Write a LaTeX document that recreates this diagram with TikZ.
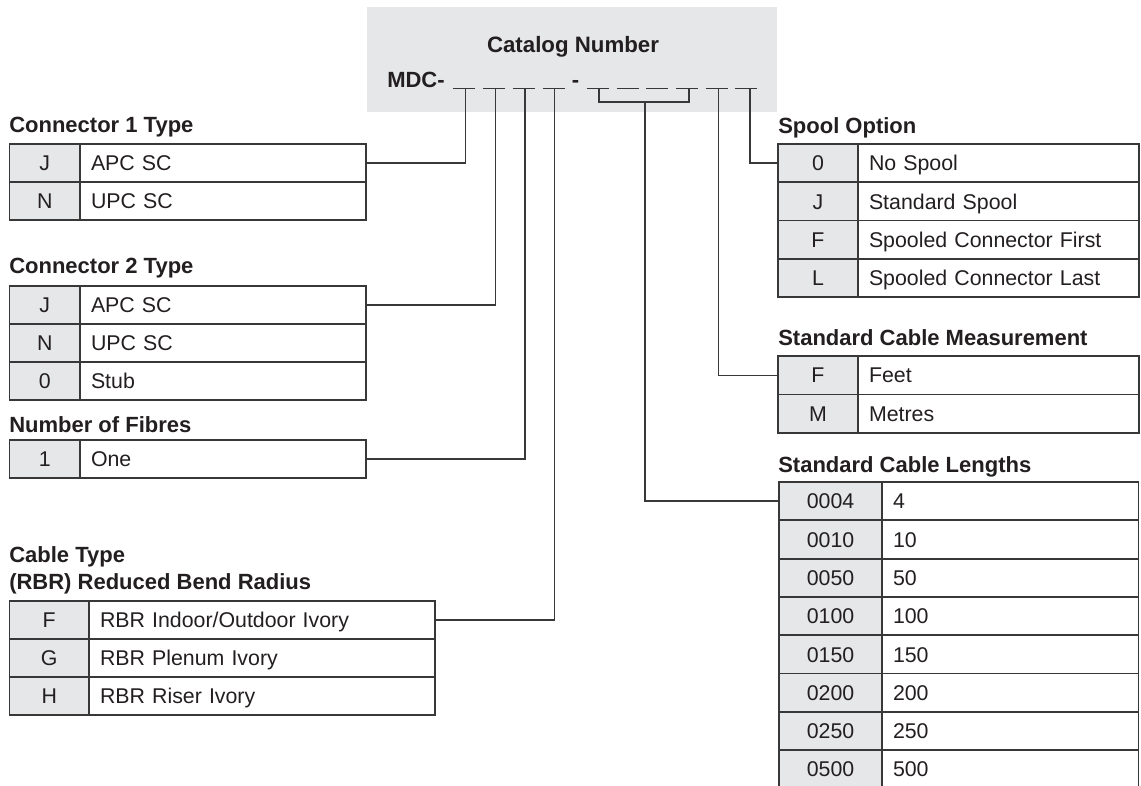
\documentclass[tikz,border=0pt]{standalone}
\usepackage{fontspec}
\setmainfont{Liberation Sans}
\definecolor{cellgray}{HTML}{E6E7E8}
\definecolor{ink}{HTML}{231F20}
\definecolor{rule}{HTML}{383838}
\tikzset{
  regfont/.style={font=\fontsize{16}{19}\selectfont},
  codecell/.style={draw=rule, fill=cellgray, line width=1.4pt, inner sep=0pt, text height=11.5pt, text depth=0pt, regfont, text=ink},
  desccell/.style={draw=rule, fill=white, line width=1.4pt, inner xsep=8.25pt, inner ysep=0pt, text height=11.5pt, text depth=0pt, align=left, regfont, text=ink},
  ttl/.style={anchor=base west, inner sep=0pt, font=\bfseries\fontsize{16.5}{19.5}\selectfont, text=ink},
  link/.style={draw=rule, line width=1pt},
  slotline/.style={draw=rule, line width=1pt},
}
\newcommand\trow[8]{%
  \pgfmathsetmacro\tw{(#4-#3)*0.75-16.5}%
  \node[codecell, minimum width={(#3-#2)*0.75pt}, minimum height={(#6-#5)*0.75pt}] (#1c) at ({(#2+#3)/2},{(#5+#6)/2}) {#7};
  \node[desccell, text width=\tw pt, minimum height={(#6-#5)*0.75pt}] (#1d) at ({(#3+#4)/2},{(#5+#6)/2}) {#8};
}
\begin{document}
\begin{tikzpicture}[x=0.75pt,y=-0.75pt]
\useasboundingbox (0,0) rectangle (1141,785);
\fill[white] (0,0) rectangle (1141,785);
% catalog box
\node[fill=cellgray, inner sep=0pt, minimum width={410*0.75pt}, minimum height={105*0.75pt}] (catbox) at (572,59.5) {};
\node[anchor=base, inner sep=0pt, font=\bfseries\fontsize{16.7}{20}\selectfont, text=ink] (cattitle) at (573,52) {Catalog Number};
\node[ttl] (mdc) at (387,87.5) {MDC-};
\node[anchor=base, inner sep=0pt, font=\bfseries\fontsize{16.5}{19.5}\selectfont, text=ink] (sep) at (575.5,87.5) {-};
% slots
\coordinate (u1) at (464,88.5);
\coordinate (u2) at (494,88.5);
\coordinate (u3) at (523.5,88.5);
\coordinate (u4) at (554,88.5);
\coordinate (u5) at (597.5,88.5);
\coordinate (u6) at (627.5,88.5);
\coordinate (u7) at (657,88.5);
\coordinate (u8) at (687,88.5);
\coordinate (u9) at (716.5,88.5);
\coordinate (u10) at (746,88.5);
\foreach \u in {u1,u2,u3,u4,u5,u6,u7,u8,u9,u10}{
  \draw[slotline] (\u) ++(-11,0) -- ++(22,0);
}
\coordinate (d1) at (465.5,88.5);
\coordinate (d2) at (495.5,88.5);
\coordinate (d3) at (525,88.5);
\coordinate (d4) at (554.5,88.5);
\coordinate (d5) at (599,88.5);
\coordinate (d8) at (689,88.5);
\coordinate (dm) at (645,102);
\coordinate (d9) at (718.5,88.5);
\coordinate (d10) at (750,88.5);
% Connector 1 Type
\node[ttl] (t1) at (9,132) {Connector 1 Type};
\trow{ca}{9.5}{80}{366}{144}{182}{J}{APC SC}
\trow{cb}{9.5}{80}{366}{182}{220}{N}{UPC SC}
% Connector 2 Type
\node[ttl] (t2) at (9,273) {Connector 2 Type};
\trow{da}{9.5}{80}{366}{286}{324}{J}{APC SC}
\trow{db}{9.5}{80}{366}{324}{362}{N}{UPC SC}
\trow{dc}{9.5}{80}{366}{362}{400}{0}{Stub}
% Number of Fibres
\node[ttl] (t3) at (9,432) {Number of Fibres};
\trow{fa}{9.5}{80}{366}{440}{478}{1}{One}
% Cable Type
\node[ttl] (t4) at (9,562) {Cable Type};
\node[ttl] (t4b) at (9,589) {(RBR) Reduced Bend Radius};
\trow{ka}{9.5}{89}{435}{601}{639}{F}{RBR Indoor/Outdoor Ivory}
\trow{kb}{9.5}{89}{435}{639}{677}{G}{RBR Plenum Ivory}
\trow{kc}{9.5}{89}{435}{677}{715}{H}{RBR Riser Ivory}
% Spool Option
\node[ttl] (t5) at (778,133) {Spool Option};
\trow{sa}{778}{858}{1139}{144}{182.25}{0}{No Spool}
\trow{sb}{778}{858}{1139}{182.25}{220.5}{J}{Standard Spool}
\trow{sc}{778}{858}{1139}{220.5}{258.75}{F}{Spooled Connector First}
\trow{sd}{778}{858}{1139}{258.75}{297}{L}{Spooled Connector Last}
% Standard Cable Measurement
\node[ttl] (t6) at (778,345) {Standard Cable Measurement};
\trow{ma}{778}{858}{1139}{356}{394.5}{F}{Feet}
\trow{mb}{778}{858}{1139}{394.5}{433}{M}{Metres}
% Standard Cable Lengths
\node[ttl] (t7) at (778,472) {Standard Cable Lengths};
\trow{la}{779}{882}{1138.5}{482}{520.3}{0004}{4}
\trow{lb}{779}{882}{1138.5}{520.3}{558.6}{0010}{10}
\trow{lc}{779}{882}{1138.5}{558.6}{596.9}{0050}{50}
\trow{ld}{779}{882}{1138.5}{596.9}{635.2}{0100}{100}
\trow{le}{779}{882}{1138.5}{635.2}{673.5}{0150}{150}
\trow{lf}{779}{882}{1138.5}{673.5}{711.8}{0200}{200}
\trow{lg}{779}{882}{1138.5}{711.8}{750.1}{0250}{250}
\trow{lh}{779}{882}{1138.5}{750.1}{788.4}{0500}{500}
% connectors
\draw[link] (cad.east) -| (d1);
\draw[link] (dad.east) -| (d2);
\draw[link] (fad.east) -| (d3);
\draw[link] (kad.east) -| (d4);
\draw[link] (d5) |- (dm) -| (d8);
\draw[link] (dm) |- (lac.west);
\draw[link] (d9) |- (mac.west);
\draw[link] (d10) |- (sac.west);
\end{tikzpicture}
\end{document}
